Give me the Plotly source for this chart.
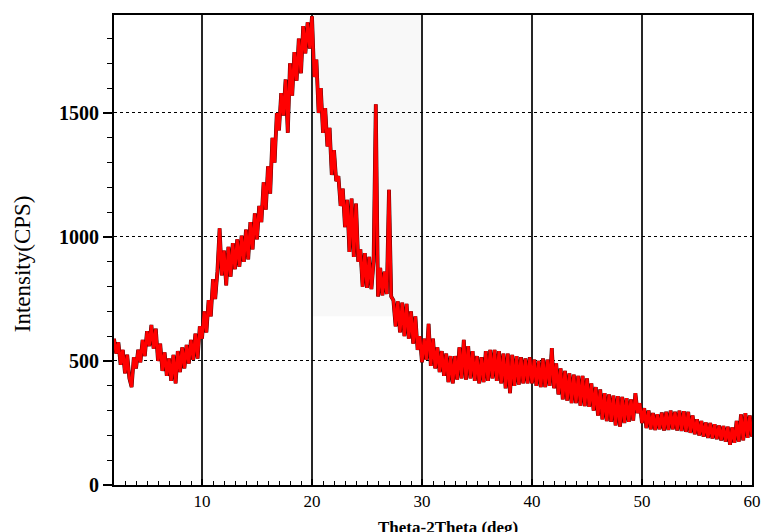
import plotly.graph_objects as go

# Scan grid (2θ, degrees): 2.0 to 60.0 in 0.2° steps
scan_start = 2.0
scan_step = 0.2
intensity = [
    590, 530, 575, 485, 545,
    450, 525, 430, 395, 515,
    470, 545, 495, 585, 520,
    620, 560, 645, 550, 630,
    500, 570, 460, 535, 440,
    510, 420, 525, 410, 540,
    455, 555, 470, 565, 490,
    585, 505, 610, 510, 640,
    590, 700, 615, 745, 680,
    830, 750, 860, 1035, 845,
    945, 805, 960, 840, 975,
    870, 990, 880, 1005, 900,
    1030, 910, 1060, 950, 1095,
    990, 1125, 1060, 1220, 1110,
    1285, 1175, 1400, 1300, 1500,
    1430, 1580, 1490, 1635, 1420,
    1700, 1570, 1745, 1630, 1800,
    1660, 1850, 1740, 1865, 1760,
    1890, 1645, 1715, 1500, 1600,
    1420, 1520, 1365, 1440, 1250,
    1350, 1225, 1245, 1125, 1195,
    1040, 1150, 940, 1155, 920,
    1135, 900, 950, 800, 935,
    795, 920, 790, 900, 1535,
    760, 875, 765, 860, 770,
    1190, 760, 745, 640, 740,
    615, 735, 600, 730, 590,
    700, 570, 680, 545, 600,
    495, 590, 505, 650, 480,
    590, 470, 555, 455, 540,
    440, 530, 415, 520, 410,
    520, 425, 555, 430, 585,
    425, 560, 430, 540, 420,
    520, 410, 515, 415, 540,
    420, 545, 430, 545, 420,
    540, 410, 530, 390, 530,
    370, 525, 400, 520, 405,
    515, 410, 510, 410, 515,
    410, 505, 400, 500, 395,
    510, 395, 505, 400, 552,
    390, 490, 365, 470, 345,
    460, 340, 450, 330, 445,
    330, 440, 320, 440, 318,
    430, 315, 410, 300, 395,
    280, 385, 265, 370, 258,
    365, 255, 360, 240, 358,
    235, 355, 250, 350, 255,
    345, 260, 370, 290, 330,
    250, 310, 230, 300, 225,
    290, 222, 285, 225, 292,
    220, 295, 222, 300, 225,
    295, 220, 300, 218, 298,
    214, 295, 210, 280, 205,
    265, 200, 258, 195, 252,
    190, 250, 188, 245, 185,
    240, 180, 238, 175, 235,
    162, 232, 170, 258, 175,
    285, 180, 290, 190, 280,
    195,
]
two_theta = [round(scan_start + scan_step * i, 1) for i in range(len(intensity))]

x_ticks = [10, 20, 30, 40, 50, 60]
y_ticks = [0, 500, 1000, 1500]
x_range = [2, 60]
y_range = [0, 1895]

serif = "Liberation Serif, Times New Roman, serif"

fig = go.Figure()
# faint shaded band
fig.add_shape(type="rect", xref="x", yref="y", x0=20, x1=30, y0=680, y1=y_range[1],
              fillcolor="#f8f8f8", line_width=0, layer="below")
fig.add_trace(go.Scatter(x=two_theta, y=intensity, mode="lines",
                         line=dict(color="#3a0000", width=3.8), hoverinfo="skip"))
fig.add_trace(go.Scatter(x=two_theta, y=intensity, mode="lines",
                         line=dict(color="#ff0000", width=3.0)))

fig.update_layout(
    width=764, height=532,
    margin=dict(l=114, r=12, t=15, b=47),
    paper_bgcolor="white", plot_bgcolor="white",
    showlegend=False,
    font=dict(family=serif, color="black"),
)
fig.update_xaxes(
    range=x_range, tickvals=x_ticks, ticktext=[str(v) for v in x_ticks],
    showgrid=True, gridcolor="#262626", gridwidth=2,
    showline=True, linecolor="black", linewidth=2, mirror=True,
    ticks="inside", ticklen=6, tickwidth=1.5, tickcolor="black",
    minor=dict(dtick=1, ticks="inside", ticklen=4, tickwidth=1, tickcolor="black", showgrid=False),
    tickfont=dict(family=serif, size=17, color="black"),
    zeroline=False, automargin=False,
)
fig.update_yaxes(
    range=y_range, tickvals=y_ticks, ticktext=["<b>%d</b>" % v for v in y_ticks],
    showgrid=True, gridcolor="black", gridwidth=1, griddash="dot",
    showline=True, linecolor="black", linewidth=2, mirror=True,
    ticks="outside", ticklen=9, tickwidth=1.5, tickcolor="black",
    minor=dict(dtick=100, ticks="outside", ticklen=5, tickwidth=1, tickcolor="black", showgrid=False),
    tickfont=dict(family=serif, size=20, color="black"),
    zeroline=False, automargin=False,
)
fig.add_annotation(text="Intensity(CPS)", xref="paper", yref="paper",
                   x=-0.144, y=0.47, xanchor="center", yanchor="middle",
                   textangle=-90, showarrow=False,
                   font=dict(family=serif, size=23, color="black"))
fig.add_annotation(text="<b>Theta-2Theta (deg)</b>", xref="paper", yref="paper",
                   x=0.5235, y=-0.066, xanchor="center", yanchor="top",
                   showarrow=False,
                   font=dict(family=serif, size=17, color="black"))

fig.write_html("out.html")
